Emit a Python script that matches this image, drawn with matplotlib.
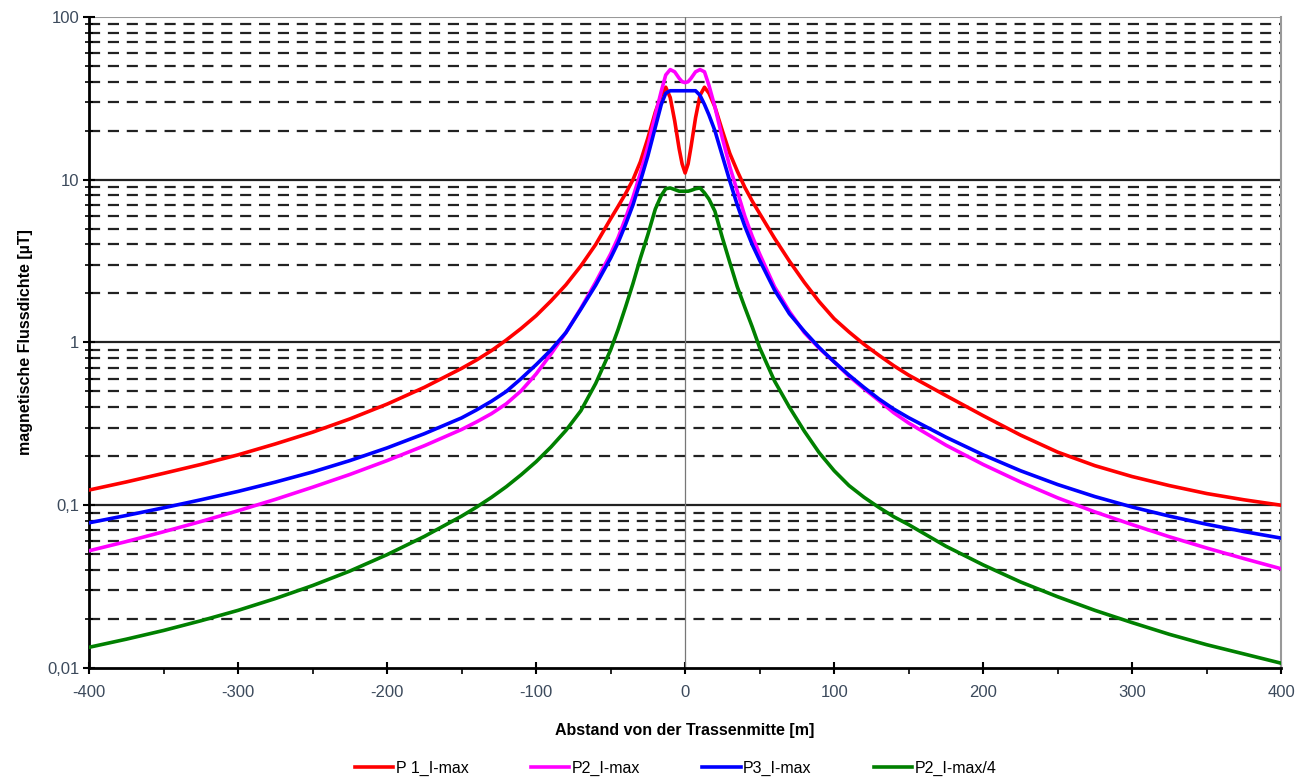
"""Magnetische Flussdichte quer zur Trasse, logarithmische Darstellung."""

import matplotlib
matplotlib.use("Agg")
import matplotlib.pyplot as plt
from matplotlib.ticker import FixedLocator, MultipleLocator

plt.rcParams['font.family'] = ['Liberation Sans', 'DejaVu Sans']

## Data.
abstand = [-400, -375, -350, -325, -300, -275, -250, -225, -200, -175, -150,
           -140, -130, -120, -110, -100, -90, -80, -70, -60, -50,
           -45, -40, -35, -30, -25, -20,
           -16, -13, -10, -7, -4, -2, 0, 2, 4, 7, 10, 13, 16,
           20, 25, 30, 35, 40, 45,
           50, 60, 70, 80, 90, 100, 110, 120, 130, 140,
           150, 175, 200, 225, 250, 275, 300, 325, 350, 375, 400]

p1_imax = [0.124, 0.139, 0.157, 0.178, 0.204, 0.238, 0.281, 0.339, 0.418, 0.53, 0.693,
           0.78, 0.89, 1.035, 1.22, 1.46, 1.8, 2.26, 2.95, 4.0, 5.75,
           6.85, 8.2, 10, 12.9, 18, 26,
           33, 37, 32, 23, 15.5, 12.5, 11, 12.5, 16, 24, 33, 37, 34,
           28, 20, 14.5, 11.3, 9.0, 7.4,
           6.2, 4.37, 3.16, 2.34, 1.78, 1.4, 1.16, 0.975, 0.835, 0.72,
           0.63, 0.472, 0.355, 0.27, 0.212, 0.175, 0.15, 0.132, 0.118, 0.108, 0.1]

p2_imax = [0.0525, 0.0598, 0.0687, 0.0794, 0.0925, 0.1086, 0.129, 0.1545, 0.188, 0.232, 0.292,
           0.325, 0.365, 0.42, 0.505, 0.64, 0.85, 1.15, 1.62, 2.35, 3.5,
           4.4, 5.8, 7.8, 11, 16, 25,
           35, 44, 47.5, 46, 42, 40, 39.5, 40, 42, 46, 47.5, 46, 38,
           28, 18, 12, 8.5, 6.0, 4.5,
           3.5, 2.2, 1.55, 1.15, 0.92, 0.76, 0.62, 0.52, 0.44, 0.37,
           0.32, 0.234, 0.178, 0.139, 0.111, 0.091, 0.076, 0.064, 0.0546, 0.047, 0.0407]

p3_imax = [0.078, 0.0865, 0.0964, 0.108, 0.1216, 0.1387, 0.16, 0.188, 0.225, 0.275, 0.344,
           0.385, 0.435, 0.5, 0.6, 0.73, 0.9, 1.15, 1.6, 2.25, 3.3,
           4.1, 5.3, 7.0, 9.8, 14, 21,
           29, 34, 35.2, 35.2, 35.2, 35.2, 35.2, 35.2, 35.2, 35.2, 33, 29, 25,
           20, 14, 9.8, 7.0, 5.2, 4.0,
           3.2, 2.1, 1.5, 1.17, 0.93, 0.76, 0.63, 0.53, 0.45, 0.39,
           0.345, 0.262, 0.204, 0.163, 0.134, 0.113, 0.0975, 0.0857, 0.0764, 0.0689, 0.0628]

p2_imax4 = [0.0134, 0.01503, 0.017, 0.0195, 0.0226, 0.0267, 0.0321, 0.0394, 0.0497, 0.0643, 0.0857,
            0.0973, 0.1117, 0.13, 0.154, 0.185, 0.228, 0.288, 0.38, 0.56, 0.9,
            1.2, 1.65, 2.3, 3.3, 4.6, 6.6,
            8.0, 8.8, 8.9, 8.7, 8.5, 8.5, 8.5, 8.5, 8.6, 8.8, 8.9, 8.3, 7.6,
            6.4, 4.4, 3.1, 2.2, 1.65, 1.25,
            0.93, 0.58, 0.40, 0.285, 0.21, 0.163, 0.132, 0.112, 0.097, 0.085,
            0.076, 0.056, 0.043, 0.0338, 0.0274, 0.0226, 0.019, 0.0161, 0.0139, 0.0122, 0.0107]

series_labels = ["P 1_I-max", "P2_I-max", "P3_I-max", "P2_I-max/4"]
series_colors = ["#ff0000", "#ff00ff", "#0000ff", "#008000"]

y_major = [0.01, 0.1, 1, 10, 100]
y_major_labels = ["0,01", "0,1", "1", "10", "100"]
x_ticks = [-400, -300, -200, -100, 0, 100, 200, 300, 400]


## Figure.
fig = plt.figure(figsize=(13.02, 7.81), dpi=100)
ax = fig.add_axes([0.0684, 0.1447, 0.9156, 0.8336])

ax.set_yscale("log")
ax.set_xlim(-400, 400)
ax.set_ylim(0.01, 100)

# Minor gridlines dashed, major gridlines solid.
y_minor = [m * d for d in [0.01, 0.1, 1, 10] for m in range(2, 10)]
ax.yaxis.set_major_locator(FixedLocator(y_major))
ax.yaxis.set_minor_locator(FixedLocator(y_minor))
ax.set_yticks(y_major, y_major_labels)
ax.yaxis.set_minor_formatter(plt.NullFormatter())

for val in y_minor:
    ax.axhline(val, color="#222222", lw=1.6, ls=(0, (5, 3.5)), zorder=1)
for val in y_major[1:-1]:
    ax.axhline(val, color="#222222", lw=1.6, zorder=1)
ax.axhline(100, color="#999999", lw=1.5, zorder=1)

# Centre of the route.
ax.axvline(0, color="#777777", lw=0.9, zorder=2)

# Curves.
for values, label, colour in zip([p1_imax, p2_imax, p3_imax, p2_imax4], series_labels, series_colors):
    ax.plot(abstand, values, color=colour, lw=2.6, label=label, zorder=3)

# Axes styling.
ax.set_xticks(x_ticks, [str(v) for v in x_ticks])
ax.xaxis.set_minor_locator(MultipleLocator(50))
ax.tick_params(axis="x", which="major", direction="inout", length=8, width=1.5, pad=8,
               labelsize=12, labelcolor="#3c4a5c")
ax.tick_params(axis="x", which="minor", direction="out", length=4, width=1.2)
ax.tick_params(axis="y", which="major", direction="inout", length=8, width=1.5, pad=3,
               labelsize=12, labelcolor="#3c4a5c")
ax.tick_params(axis="y", which="minor", direction="inout", length=6, width=1.2)

ax.spines["left"].set_linewidth(2)
ax.spines["bottom"].set_linewidth(2)
ax.spines["top"].set_visible(False)
ax.spines["right"].set_color("#999999")
ax.spines["right"].set_linewidth(1.5)

ax.set_xlabel("Abstand von der Trassenmitte [m]", fontsize=11.5, fontweight="bold", labelpad=17)
ax.set_ylabel("magnetische Flussdichte [µT]", fontsize=11.5, fontweight="bold", labelpad=10)

fig.legend(loc="lower center", bbox_to_anchor=(0.519, -0.012), ncol=4, frameon=False,
           fontsize=11.5, handlelength=2.4, columnspacing=3.9, handletextpad=0.15)

fig.savefig("out.png", dpi=100)
